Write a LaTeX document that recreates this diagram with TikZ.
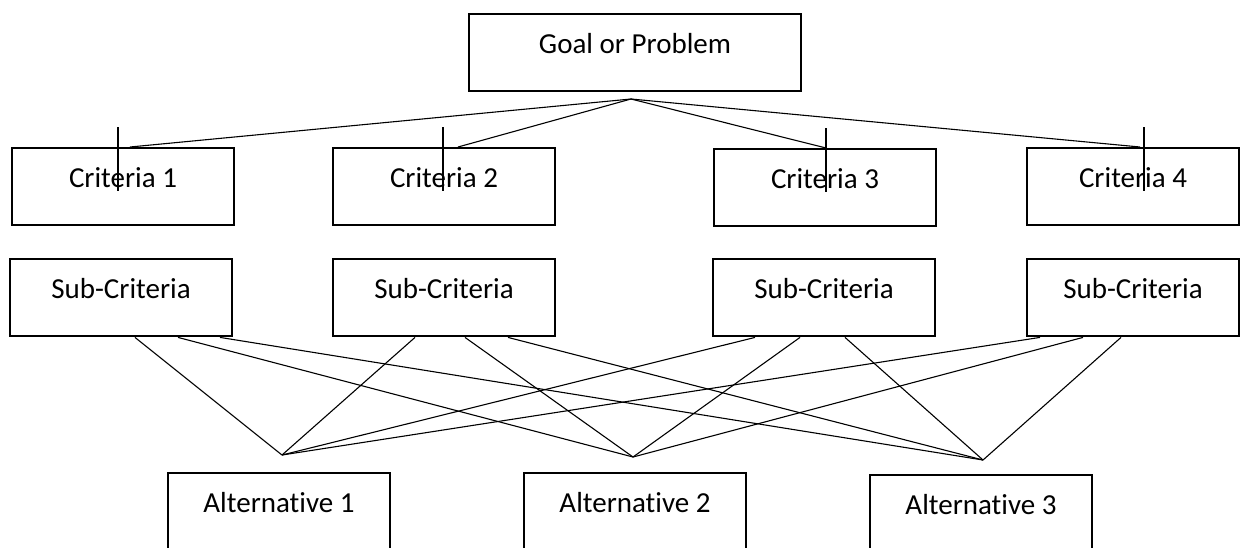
\documentclass[tikz,border=0pt]{standalone}
\usepackage{fontspec}
\setmainfont{Carlito}[Ligatures=NoCommon]
\begin{document}
\begin{tikzpicture}[x=0.5pt, y=-0.5pt,
    box/.style={draw, line width=1pt, inner sep=0pt, minimum width=111pt,
        text height=19.6pt, text depth=19.1pt, anchor=north west,
        font=\fontsize{14.5}{17}\selectfont},
    link/.style={line width=0.55pt},
    tick/.style={line width=0.9pt}]
    \useasboundingbox (0,0) rectangle (1240,547);

    % Goal
    \node[box, minimum width=166pt] (goal) at (468,13) {Goal or Problem};
    \coordinate (apex) at (631,99);

    % Criteria
    \node[box] (crit1) at (11,147) {Criteria 1};
    \node[box] (crit2) at (332,147) {Criteria 2};
    \node[box] (crit3) at (713,148) {Criteria 3};
    \node[box, minimum width=106pt] (crit4) at (1026,147) {Criteria 4};

    % Sub-criteria
    \node[box] (sub1) at (9,258) {Sub-Criteria};
    \node[box] (sub2) at (332,258) {Sub-Criteria};
    \node[box] (sub3) at (712,258) {Sub-Criteria};
    \node[box, minimum width=106pt] (sub4) at (1026,258) {Sub-Criteria};

    % Alternatives
    \node[box] (alt1) at (167,472) {Alternative 1};
    \node[box] (alt2) at (523,472) {Alternative 2};
    \node[box] (alt3) at (869,474) {Alternative 3};
    \coordinate (fork1) at (282,455);
    \coordinate (fork2) at (633,457);
    \coordinate (fork3) at (983,460);

    % Goal to criteria
    \foreach \c/\x in {crit1/130, crit2/458, crit3/826, crit4/1140}
        \draw[link] (apex) -- (\c.north -| \x,0);
    \foreach \c/\x in {crit1/118, crit2/443, crit3/826, crit4/1144}
        \draw[tick] (\c.north -| \x,0) ++(0,-20) -- ++(0,64);

    % Sub-criteria to alternatives
    \foreach \s/\x/\f in {sub1/135/fork1, sub1/178/fork2, sub1/220/fork3,
                          sub2/415/fork1, sub2/465/fork2, sub2/508/fork3,
                          sub3/755/fork1, sub3/800/fork2, sub3/845/fork3,
                          sub4/1040/fork1, sub4/1083/fork2, sub4/1121/fork3}
        \draw[link] (\s.south -| \x,0) -- (\f);
\end{tikzpicture}
\end{document}
